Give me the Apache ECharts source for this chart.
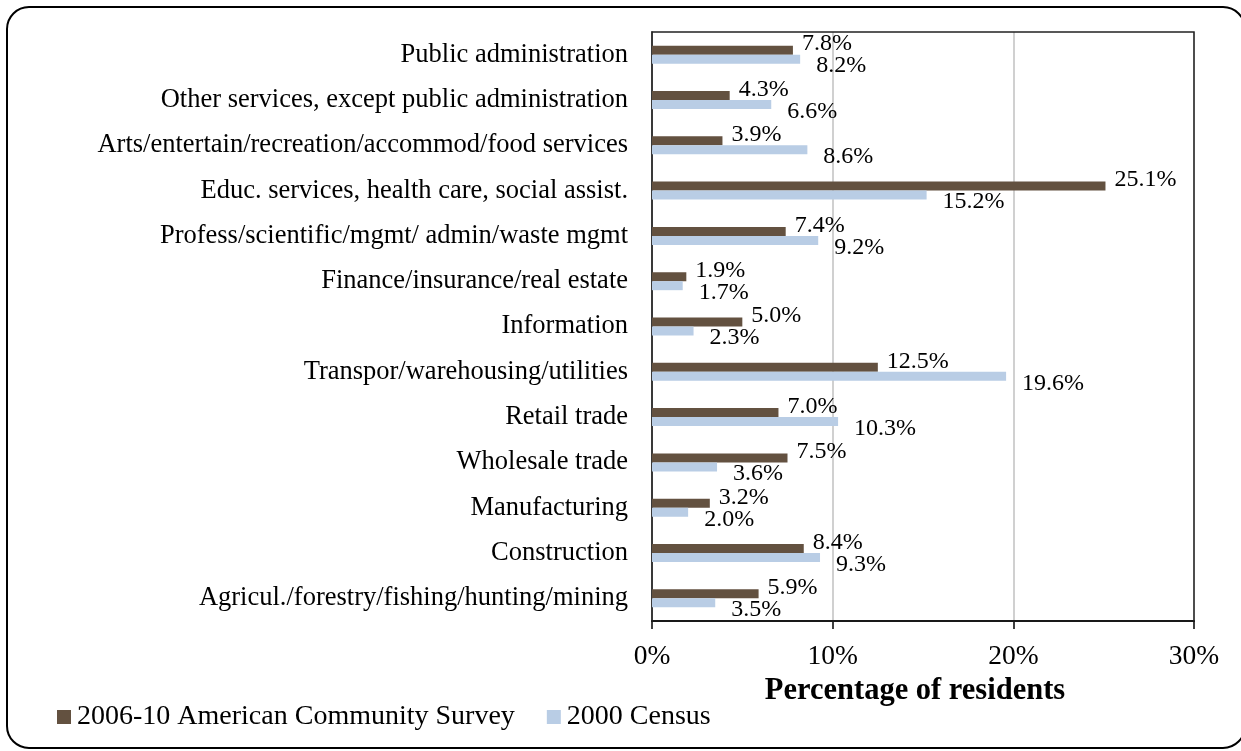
<!DOCTYPE html>
<html>
<head>
<meta charset="utf-8">
<script src="https://cdn.jsdelivr.net/npm/echarts@6/dist/echarts.min.js"></script>
<style>html,body{margin:0;padding:0;background:#fff}#c{width:1241px;height:751px}</style>
</head>
<body>
<div id="c"></div>
<script>
// categories listed top to bottom
const categories = [
  'Public administration',
  'Other services, except public administration',
  'Arts/entertain/recreation/accommod/food services',
  'Educ. services, health care, social assist.',
  'Profess/scientific/mgmt/ admin/waste mgmt',
  'Finance/insurance/real estate',
  'Information',
  'Transpor/warehousing/utilities',
  'Retail trade',
  'Wholesale trade',
  'Manufacturing',
  'Construction',
  'Agricul./forestry/fishing/hunting/mining'
];
const acs2006_10 = [7.8, 4.3, 3.9, 25.1, 7.4, 1.9, 5.0, 12.5, 7.0, 7.5, 3.2, 8.4, 5.9];
const census2000 = [8.2, 6.6, 8.6, 15.2, 9.2, 1.7, 2.3, 19.6, 10.3, 3.6, 2.0, 9.3, 3.5];
const seriesNames = ['2006-10 American Community Survey', '2000 Census'];
const xTicks = [0, 10, 20, 30];

const FONT = '"Liberation Serif", "Times New Roman", serif';
const chart = echarts.init(document.getElementById('c'), null, {renderer: 'canvas'});
const fmt = p => p.value.toFixed(1) + '%';
chart.setOption({
  animation: false,
  textStyle: {fontFamily: FONT},
  graphic: [{
    type: 'rect', z: 100, silent: true,
    shape: {x: 7, y: 7, width: 1238, height: 741, r: 22},
    style: {fill: 'none', stroke: '#000', lineWidth: 2}
  }, {
    type: 'rect', z: 1, silent: true,
    shape: {x: 652, y: 32, width: 542, height: 589},
    style: {fill: 'none', stroke: '#222', lineWidth: 1.5}
  }],
  legend: {
    left: 52, top: 698, itemGap: 32, itemWidth: 14, itemHeight: 14,
    icon: 'rect',
    data: seriesNames,
    textStyle: {fontFamily: FONT, fontSize: 28, color: '#000', padding: [0, 0, 0, 1]}
  },
  grid: {left: 652, right: 47, top: 32, bottom: 130, containLabel: false},
  xAxis: {
    type: 'value', min: xTicks[0], max: xTicks[xTicks.length - 1], interval: 10,
    axisLine: {show: true, lineStyle: {color: '#000', width: 2}},
    axisTick: {show: true, inside: false, length: 8, lineStyle: {color: '#000', width: 1.5}},
    axisLabel: {formatter: '{value}%', fontFamily: FONT, fontSize: 27.5, color: '#000', margin: 22},
    splitLine: {show: true, lineStyle: {color: '#c0c0c0', width: 1.5}},
    name: 'Percentage of residents',
    nameLocation: 'middle', nameGap: 53,
    nameTextStyle: {fontFamily: FONT, fontSize: 30.5, fontWeight: 'bold', color: '#000', padding: [0, 16, 0, 0]}
  },
  yAxis: {
    type: 'category', inverse: true, data: categories,
    axisLine: {show: true, lineStyle: {color: '#808080', width: 2}},
    axisTick: {show: false},
    axisLabel: {fontFamily: FONT, fontSize: 26.5, color: '#000', margin: 24}
  },
  series: [{
    name: seriesNames[0], type: 'bar', data: acs2006_10,
    barWidth: 9, barGap: '0%',
    itemStyle: {color: '#635140'},
    label: {show: true, position: 'right', distance: 9, offset: [0, -6], formatter: fmt,
      fontFamily: FONT, fontSize: 24, color: '#000'}
  }, {
    name: seriesNames[1], type: 'bar', data: census2000,
    barWidth: 9, barGap: '0%',
    itemStyle: {color: '#b9cde5'},
    label: {show: true, position: 'right', distance: 16, offset: [0, 7], formatter: fmt,
      fontFamily: FONT, fontSize: 24, color: '#000'}
  }]
});
</script>
</body>
</html>
